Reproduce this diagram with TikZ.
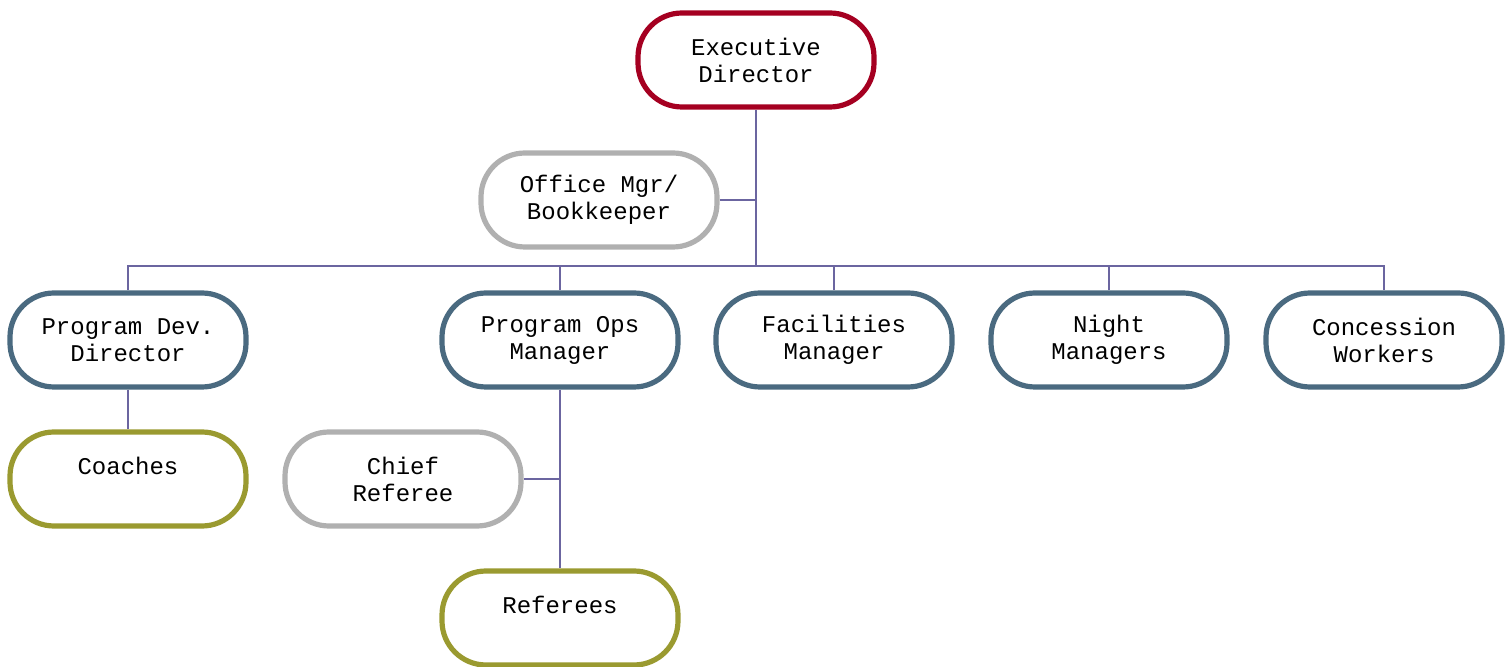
\documentclass[tikz,border=0pt]{standalone}
\usepackage{fontspec}
\setmonofont{Liberation Mono}
\usepackage{tikz}

\definecolor{topred}{HTML}{A50021}
\definecolor{slate}{HTML}{4A6A80}
\definecolor{lightgray}{HTML}{B0B0B0}
\definecolor{olive}{HTML}{9A9A30}
\definecolor{wire}{HTML}{6B65A0}

\tikzset{
    post/.style={draw=slate, line width=2.6pt, rounded corners=22pt, fill=white,
        minimum width=118pt, minimum height=47pt, inner sep=0pt, align=center,
        font=\ttfamily\fontsize{12}{13.5}\selectfont},
    chief/.style={post, draw=topred},
    helper/.style={post, draw=lightgray},
    crew/.style={post, draw=olive},
    link/.style={draw=wire, line width=0.8pt}
}

\begin{document}
\begin{tikzpicture}[x=0.5pt, y=-0.5pt]
            \useasboundingbox (0, 0) rectangle (1510, 667);
            \node[chief] (exec) at (756, 60) {Executive\\Director};
            \node[helper] (office) at (599, 200) {Office Mgr/\\Bookkeeper};
            \node[post] (pdev) at (128, 340) {Program Dev.\\Director};
            \node[post] (pops) at (560, 340) {Program Ops\\Manager};
            \node[post] (fac) at (834, 340) {Facilities\\Manager};
            \node[post] (night) at (1109, 340) {Night\\Managers};
            \node[post] (conc) at (1384, 340) {Concession\\Workers};
            \node[crew] (coach) at (128, 479) {Coaches\\~};
            \node[helper] (cref) at (403, 479) {Chief\\Referee};
            \node[crew] (refs) at (560, 618) {Referees\\~};
            \coordinate (bus) at (756, 266);
            % top level
            \draw[link] (exec.south) -- (bus);
            \draw[link] (office.east) -- (office.east -| exec.south);
            \draw[link] (pdev.north) -- (pdev.north |- bus) -- (conc.north |- bus) -- (conc.north);
            \foreach \n in {pops, fac, night}
                \draw[link] (\n.north) -- (\n.north |- bus);
            % lower levels
            \draw[link] (pdev.south) -- (coach.north);
            \draw[link] (pops.south) -- (refs.north);
            \draw[link] (cref.east) -- (cref.east -| pops.south);
\end{tikzpicture}
\end{document}
